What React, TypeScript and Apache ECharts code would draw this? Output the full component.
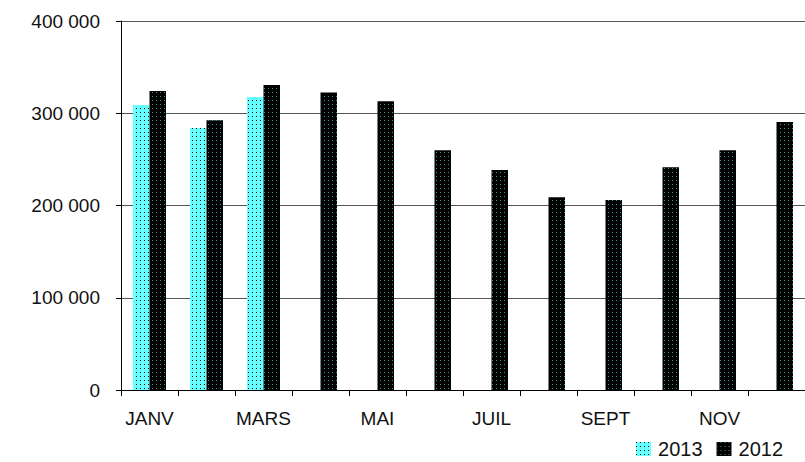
import React, { useEffect, useRef } from "react";
import * as echarts from "echarts";

const months = ["JANV", "FEVR", "MARS", "AVR", "MAI", "JUIN", "JUIL", "AOUT", "SEPT", "OCT", "NOV", "DEC"];
const values2013: (number | null)[] = [309000, 284000, 317500, null, null, null, null, null, null, null, null, null];
const values2012: number[] = [324000, 292500, 330500, 322500, 313000, 260000, 238500, 209000, 206000, 241500, 260000, 290500];
const yTicks = [0, 100000, 200000, 300000, 400000];

const fmt = (v: number) => String(v).replace(/\B(?=(\d{3})+(?!\d))/g, " ");

export default function App() {
  const ref = useRef<HTMLDivElement>(null);
  useEffect(() => {
    if (!ref.current) return;
    const chart = echarts.init(ref.current, null, { renderer: "svg" });
    const font = "Liberation Sans, Arial, sans-serif";
    chart.setOption({
      animation: false,
      backgroundColor: "#ffffff",
      grid: { left: 121, right: 0, top: 21, bottom: 72, containLabel: false },
      legend: {
        right: 22,
        bottom: 3,
        padding: 0,
        itemWidth: 15,
        itemHeight: 14,
        itemGap: 14,
        itemStyle: { borderWidth: 0 },
        icon: "rect",
        textStyle: { fontFamily: font, fontSize: 20, color: "#111", padding: [0, 0, 0, 2] },
        data: ["2013", "2012"],
      },
      xAxis: {
        type: "category",
        data: months,
        boundaryGap: true,
        axisLine: { lineStyle: { color: "#000", width: 1 } },
        axisTick: { show: true, interval: 0, length: 6, lineStyle: { color: "#000" } },
        axisLabel: { interval: 1, margin: 19, fontFamily: font, fontSize: 19, color: "#111" },
      },
      yAxis: {
        type: "value",
        min: yTicks[0],
        max: yTicks[yTicks.length - 1],
        interval: 100000,
        axisLine: { show: true, lineStyle: { color: "#000", width: 1 } },
        axisTick: { show: true, length: 5, lineStyle: { color: "#000" } },
        axisLabel: { margin: 21, fontFamily: font, fontSize: 19, color: "#111", formatter: (v: number) => fmt(v) },
        splitLine: { show: true, lineStyle: { color: "#555", width: 1 } },
      },
      series: [
        {
          name: "2013",
          type: "bar",
          data: values2013,
          barWidth: 16.5,
          barGap: "0%",
          itemStyle: {
            color: "#66ffff",
            decal: { symbol: "rect", symbolSize: 1, dashArrayX: [1, 3], dashArrayY: [1, 3], color: "#000" },
          },
        },
        {
          name: "2012",
          type: "bar",
          data: values2012,
          barWidth: 16.5,
          barGap: "0%",
          itemStyle: {
            color: "#000000",
            decal: { symbol: "rect", symbolSize: 1, dashArrayX: [1, 3], dashArrayY: [1, 3], color: "#2f9a9a" },
          },
        },
      ],
    });
    return () => chart.dispose();
  }, []);
  return <div ref={ref} style={{ width: 805, height: 462, position: "absolute", left: 0, top: 0 }} />;
}
